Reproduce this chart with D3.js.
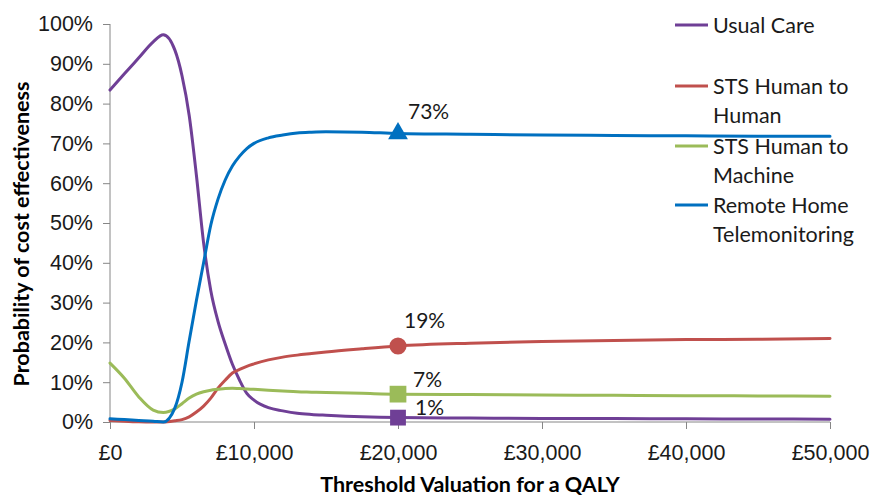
<!DOCTYPE html>
<html>
  <head>
    <title>CEAC</title>
    <script type="text/javascript" src="https://cdn.jsdelivr.net/npm/d3@7/dist/d3.min.js"></script>
    <style type="text/css">
      body { margin: 0; background: #fff; }
      svg { display: block; font-family: Lato, "Open Sans", sans-serif; }
      .axis path, .axis line { stroke: #868686; }
      .axis text { font-size: 21.5px; fill: #1a1a1a; }
    </style>
  </head>
  <body>
  <script type="text/javascript">

  // threshold (£) and probability (%)
  var thresholds = [0, 1000, 2000, 3000, 3700, 4500, 5000, 5500, 6000, 6500, 7000, 7500, 8000, 8500, 9000, 9500,
    10000, 11000, 12000, 13000, 14000, 15000, 17500, 20000, 25000, 30000, 35000, 40000, 45000, 50000]

  var usualCare = [83.4, 87.5, 91.5, 95.5, 97.3, 93.5, 87, 77, 62, 45, 33, 25.3, 19.6, 14.5, 10.5, 7.2,
    5.5, 3.6, 2.8, 2.2, 1.9, 1.7, 1.3, 1.1, 1.0, 0.9, 0.85, 0.8, 0.75, 0.7]
  var stsHuman = [0.4, 0.2, 0.05, 0, 0, 0.3, 0.6, 1.3, 2.5, 4.0, 6.0, 8.5, 10.5, 12.3, 13.2, 14,
    14.6, 15.6, 16.3, 16.8, 17.2, 17.6, 18.4, 19.1, 19.8, 20.2, 20.5, 20.7, 20.8, 21]
  var stsMachine = [14.8, 11, 6.3, 3, 2.4, 3.3, 4.6, 6, 7, 7.6, 8.0, 8.2, 8.4, 8.5, 8.4, 8.3,
    8.2, 8.0, 7.8, 7.6, 7.5, 7.4, 7.2, 7.0, 6.9, 6.8, 6.7, 6.6, 6.55, 6.5]
  var remoteHome = [0.8, 0.6, 0.4, 0.2, 0, 3.5, 10, 20.4, 30.5, 40, 49.5, 56, 60.8, 64.3, 66.8, 68.7,
    70.0, 71.4, 72.1, 72.6, 72.8, 72.9, 72.8, 72.5, 72.3, 72.1, 72.0, 71.9, 71.8, 71.8]

  var seriesNames = ['Usual Care', 'STS Human to Human', 'STS Human to Machine', 'Remote Home Telemonitoring']
  var legendLines = [['Usual Care'], ['STS Human to', 'Human'], ['STS Human to', 'Machine'], ['Remote Home', 'Telemonitoring']]
  var seriesValues = [usualCare, stsHuman, stsMachine, remoteHome]
  var colors = ['#6f3f96', '#c0504d', '#9bbb59', '#0070c0']

  // highlighted point at £20,000
  var markerAt = 20000
  var markerValues = [1.1, 19.1, 7.0, 72.5]
  var markerLabels = ['1%', '19%', '7%', '73%']
  var markerShapes = [d3.symbolSquare, d3.symbolCircle, d3.symbolSquare, d3.symbolTriangle]
  var markerSizes = [250, 230, 280, 170]
  var labelOffsets = [[17, -3], [6, -18], [15, -7], [10, -14]]

  var xTicks = [0, 10000, 20000, 30000, 40000, 50000]
  var yTicks = d3.range(0, 101, 10)

  var width = 884, height = 496
  var svg = d3.select('body').append('svg')
    .attr('width', width)
    .attr('height', height)

  var x = d3.scaleLinear().domain([0, 50000]).range([110, 830])
  var y = d3.scaleLinear().domain([0, 100]).range([422, 24])

  svg.append('g')
    .attr('class', 'axis')
    .attr('transform', 'translate(110,0)')
    .call(d3.axisLeft(y).tickValues(yTicks).tickSize(7).tickPadding(10)
      .tickFormat(function(d) { return d + '%' }))
    .call(function(g) { g.select('.domain').attr('d', 'M0,' + y(0) + 'V' + y(100)) })

  svg.append('g')
    .attr('class', 'axis')
    .attr('transform', 'translate(0,422)')
    .call(d3.axisBottom(x).tickValues(xTicks).tickSize(7).tickPadding(16)
      .tickFormat(function(d) { return '£' + d3.format(',')(d) }))
    .call(function(g) { g.select('.domain').attr('d', 'M' + x(0) + ',0H' + x(50000)) })

  var line = d3.line()
    .x(function(d, i) { return x(thresholds[i]) })
    .y(function(d) { return y(d) })
    .curve(d3.curveMonotoneX)

  svg.selectAll('path.series').data(seriesValues)
    .enter().append('path')
      .attr('class', 'series')
      .attr('fill', 'none')
      .attr('stroke', function(d, i) { return colors[i] })
      .attr('stroke-width', 3)
      .attr('stroke-linejoin', 'round')
      .attr('stroke-linecap', 'round')
      .attr('d', line)

  svg.selectAll('path.marker').data(markerValues)
    .enter().append('path')
      .attr('class', 'marker')
      .attr('fill', function(d, i) { return colors[i] })
      .attr('transform', function(d) { return 'translate(' + x(markerAt) + ',' + y(d) + ')' })
      .attr('d', function(d, i) { return d3.symbol(markerShapes[i], markerSizes[i])() })

  svg.selectAll('text.label').data(markerValues)
    .enter().append('text')
      .attr('class', 'label')
      .attr('x', function(d, i) { return x(markerAt) + labelOffsets[i][0] })
      .attr('y', function(d, i) { return y(d) + labelOffsets[i][1] })
      .attr('font-size', '21px')
      .attr('fill', '#1a1a1a')
      .text(function(d, i) { return markerLabels[i] })

  // legend, drawn over the plot like the original
  var legendY = [25, 86, 146, 205]
  var legend = svg.selectAll('g.legend').data(seriesNames)
    .enter().append('g')
      .attr('class', 'legend')
      .attr('transform', function(d, i) { return 'translate(675,' + legendY[i] + ')' })
  legend.append('line')
    .attr('x1', 0).attr('x2', 33)
    .attr('stroke', function(d, i) { return colors[i] })
    .attr('stroke-width', 3)
  legend.append('text')
    .attr('x', 38)
    .attr('font-size', '21.5px')
    .attr('fill', '#1a1a1a')
    .selectAll('tspan').data(function(d, i) { return legendLines[i] })
    .enter().append('tspan')
      .attr('x', 38)
      .attr('dy', function(d, j) { return j == 0 ? '0.35em' : 29 })
      .text(function(d) { return d })

  svg.append('text')
    .attr('x', 470).attr('y', 492)
    .attr('text-anchor', 'middle')
    .attr('font-size', '21.5px')
    .attr('font-weight', 'bold')
    .text('Threshold Valuation for a QALY')

  svg.append('text')
    .attr('transform', 'translate(29,234) rotate(-90)')
    .attr('text-anchor', 'middle')
    .attr('font-size', '21.5px')
    .attr('font-weight', 'bold')
    .text('Probability of cost effectiveness')

  </script>
  </body>
</html>
